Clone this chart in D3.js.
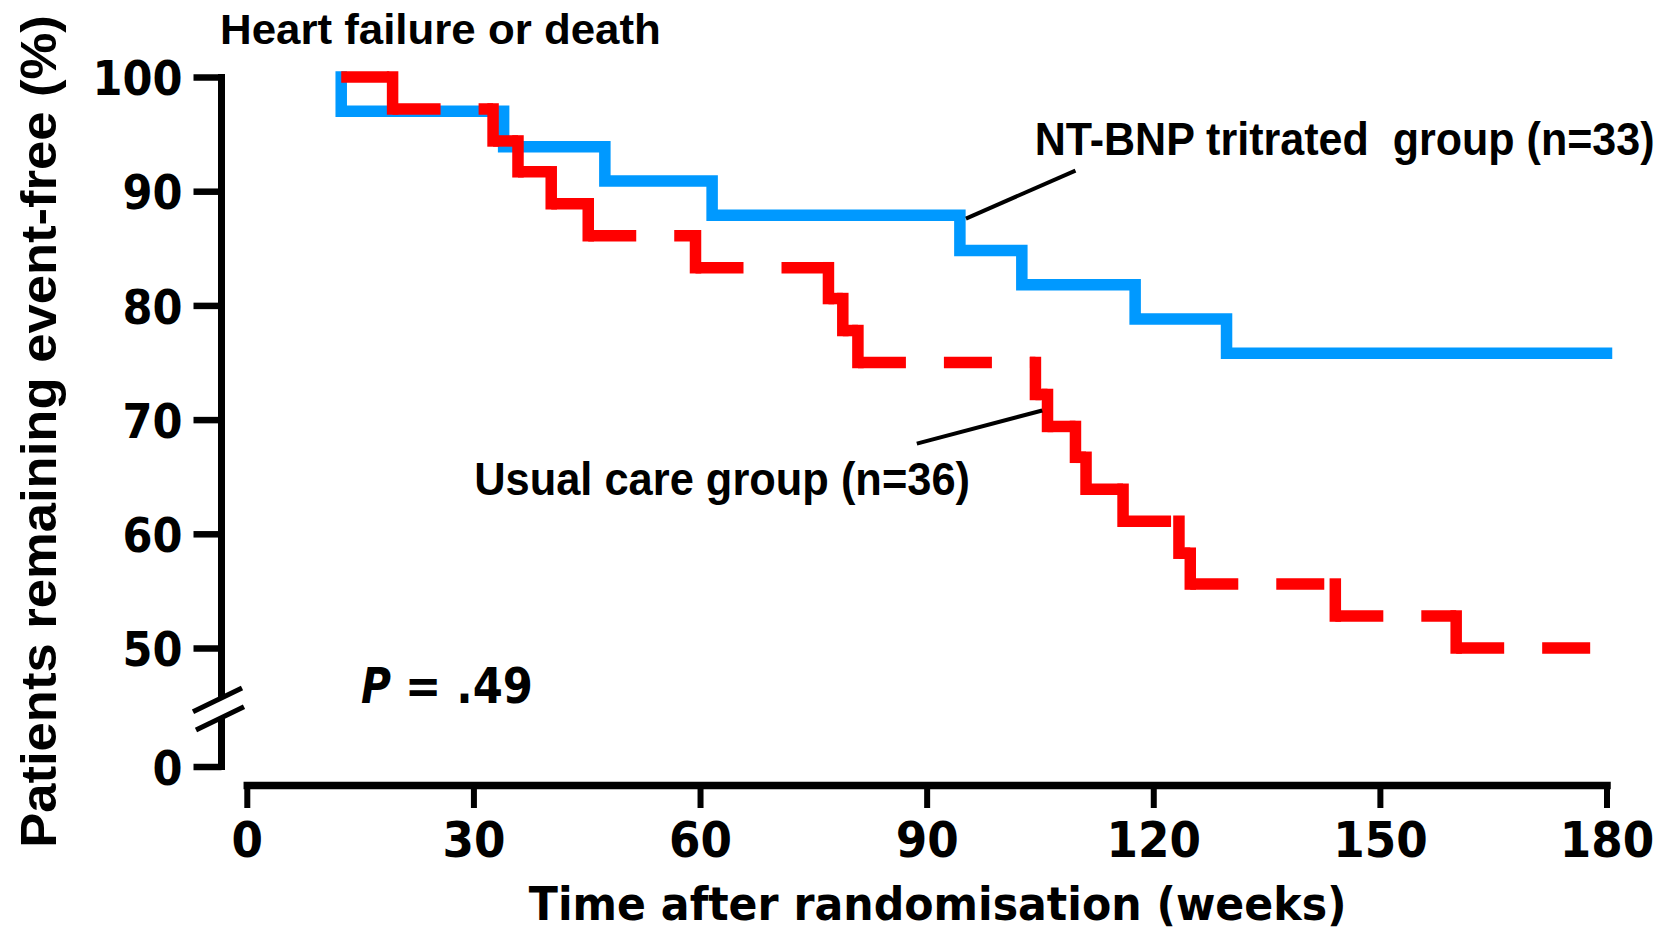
<!DOCTYPE html>
<html>
<head>
<meta charset="utf-8">
<script src="https://cdn.jsdelivr.net/npm/d3@7"></script>
<style>
  html, body { margin: 0; padding: 0; background: #fff; }
  svg { display: block; }
</style>
</head>
<body>
<div id="chart"></div>
<script>
// ---- data ----
// NT-BNP titrated group (n=33)
const blueTime = [12.5, 12.5, 34.0, 47.4, 61.6, 94.4, 102.6, 117.6, 129.7, 180];
const blueSurv = [100, 97.0, 93.9, 90.9, 87.9, 84.8, 81.8, 78.8, 75.8, 75.8];

// Usual care group (n=36)
const redTime = [12.5, 19.3, 32.6, 35.9, 40.3, 45.2, 59.4, 77.0, 78.9, 80.9,
  104.4, 106.0, 109.7, 111.1, 116.0, 123.4, 124.9, 144.1, 160.1, 178.6];
const redSurv = [100, 97.2, 94.4, 91.7, 88.9, 86.1, 83.3, 80.6, 77.8, 75.0,
  72.2, 69.4, 66.7, 63.9, 61.1, 58.3, 55.6, 52.8, 50.0, 50.0];

const xTicks = [0, 30, 60, 90, 120, 150, 180];
const yTicks = [0, 50, 60, 70, 80, 90, 100];

// ---- setup ----
const width = 1668, height = 933;
const BLUE = "#0099ff", RED = "#ff0000";
const verdana = "DejaVu Sans, Verdana, sans-serif";
const arial = "Liberation Sans, Arial, Helvetica, sans-serif";

const svg = d3.select("#chart").append("svg")
  .attr("width", width).attr("height", height);

// squeeze a text horizontally to a given width (keeps real bbox)
function fitText(sel, px, py, w, anchor) {
  const natural = sel.node().getComputedTextLength();
  const k = w / natural;
  sel.attr("x", 0).attr("y", 0)
    .attr("text-anchor", anchor || "start")
    .attr("transform", `translate(${px},${py}) scale(${k},1)`);
  return sel;
}

// scales (y is broken between 0 and 50)
const x = d3.scaleLinear().domain([0, 180]).range([246.8, 1606.5]);
const y = d3.scaleLinear().domain([0, 50, 100]).range([766.5, 648, 77]);

// ---- x axis ----
const xAxis = d3.axisBottom(x).tickValues(xTicks).tickSize(23).tickSizeOuter(0);
const gx = svg.append("g")
  .attr("transform", "translate(0,785)")
  .call(xAxis);
gx.select(".domain").attr("stroke-width", 7.5).attr("stroke-linecap", "square");
gx.selectAll(".tick line").attr("stroke-width", 6);
gx.selectAll(".tick text")
  .attr("y", 72).attr("dy", 0)
  .attr("font-family", verdana)
  .attr("font-weight", "bold")
  .attr("font-size", 50)
  .attr("fill", "#000")
  .attr("textLength", (d) => String(d).length * 31.5)
  .attr("lengthAdjust", "spacingAndGlyphs");

// ---- y axis ----
const yAxis = d3.axisLeft(y).tickValues(yTicks).tickSize(28).tickPadding(11);
const gy = svg.append("g")
  .attr("transform", "translate(221.5,0)")
  .call(yAxis);
gy.select(".domain").remove();
gy.selectAll(".tick line").attr("stroke-width", 6.5);
gy.selectAll(".tick text")
  .attr("dy", "0.37em")
  .attr("font-family", verdana)
  .attr("font-weight", "bold")
  .attr("font-size", 48)
  .attr("fill", "#000")
  .attr("textLength", (d) => String(d).length * 30)
  .attr("lengthAdjust", "spacingAndGlyphs");

// axis line with a break between 0 and 50
svg.append("line")
  .attr("x1", 221.5).attr("x2", 221.5)
  .attr("y1", y(100) - 3).attr("y2", 698)
  .attr("stroke", "#000").attr("stroke-width", 7);
svg.append("line")
  .attr("x1", 221.5).attr("x2", 221.5)
  .attr("y1", 717).attr("y2", 770)
  .attr("stroke", "#000").attr("stroke-width", 7);
[[193, 711.7, 242, 688], [196, 730, 244, 706.7]].forEach((s) => {
  svg.append("line")
    .attr("x1", s[0]).attr("y1", s[1]).attr("x2", s[2]).attr("y2", s[3])
    .attr("stroke", "#000").attr("stroke-width", 5);
});

// ---- blue curve (solid) ----
const blueData = blueTime.map((t, i) => ({ t: t, s: blueSurv[i] }));
const line = d3.line()
  .x((d) => x(d.t))
  .y((d) => y(d.s))
  .curve(d3.curveStepAfter);

svg.append("path")
  .datum(blueData)
  .attr("d", line)
  .attr("fill", "none")
  .attr("stroke", BLUE)
  .attr("stroke-width", 11.5)
  .attr("stroke-linecap", "square")
  .attr("stroke-linejoin", "miter");

// ---- red curve (dashed flats, solid drops) ----
const redData = redTime.map((t, i) => ({ t: t, s: redSurv[i] }));
const redG = svg.append("g");
redData.slice(0, -1).forEach((d, i) => {
  const nxt = redData[i + 1];
  redG.append("line")
    .attr("x1", x(d.t)).attr("x2", x(nxt.t))
    .attr("y1", y(d.s)).attr("y2", y(d.s))
    .attr("stroke", RED).attr("stroke-width", 11.5)
    .attr("stroke-dasharray", "48 38");
  if (nxt.s !== d.s) {
    redG.append("line")
      .attr("x1", x(nxt.t)).attr("x2", x(nxt.t))
      .attr("y1", y(d.s)).attr("y2", y(nxt.s))
      .attr("stroke", RED).attr("stroke-width", 11.5)
      .attr("stroke-linecap", "square");
  }
});

// ---- annotations ----
const leaders = [
  { t1: 95.2, v1: 87.6, t2: 109.7, v2: 91.8 },
  { t1: 88.7, v1: 67.9, t2: 105.3, v2: 70.8 }
];
leaders.forEach((d) => {
  svg.append("line")
    .attr("x1", x(d.t1)).attr("y1", y(d.v1))
    .attr("x2", x(d.t2)).attr("y2", y(d.v2))
    .attr("stroke", "#000").attr("stroke-width", 4);
});

fitText(svg.append("text")
  .attr("font-family", arial).attr("font-weight", "bold").attr("font-size", 47)
  .text("NT-BNP tritrated\u00a0 group (n=33)"),
  x(104.3), y(93.2), 620);

fitText(svg.append("text")
  .attr("font-family", arial).attr("font-weight", "bold").attr("font-size", 46)
  .text("Usual care group (n=36)"),
  x(30.1), y(63.4), 496);

fitText(svg.append("text")
  .attr("font-family", verdana).attr("font-weight", "bold")
  .attr("font-style", "italic").attr("font-size", 50)
  .text("P"), 361, 703, 30);

fitText(svg.append("text")
  .attr("font-family", verdana).attr("font-weight", "bold").attr("font-size", 50)
  .text("= .49"), 405, 703, 128);

// title
fitText(svg.append("text")
  .attr("font-family", arial).attr("font-weight", "bold").attr("font-size", 43)
  .text("Heart failure or death"), 220, 44, 441);

// axis titles
fitText(svg.append("text")
  .attr("font-family", verdana).attr("font-weight", "bold").attr("font-size", 46)
  .text("Time after randomisation (weeks)"), 937.7, 920, 818, "middle");

const yTitle = svg.append("text")
  .attr("font-family", arial).attr("font-weight", "bold").attr("font-size", 50)
  .text("Patients remaining event-free (%)");
const yk = 833 / yTitle.node().getComputedTextLength();
yTitle.attr("text-anchor", "middle")
  .attr("transform", `translate(56,431.5) rotate(-90) scale(${yk},1)`);
</script>
</body>
</html>
